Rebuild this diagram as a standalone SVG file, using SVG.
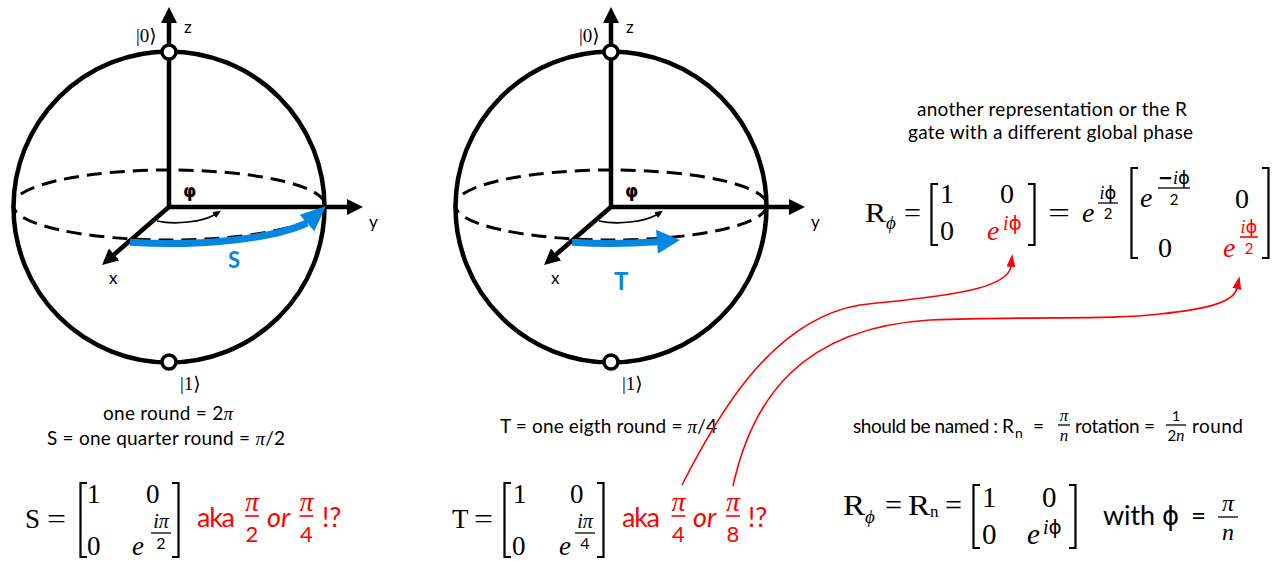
<svg xmlns="http://www.w3.org/2000/svg" width="1283" height="561" viewBox="0 0 1283 561">
<style>
.sans{font-family:Lato,"Liberation Sans","DejaVu Sans",sans-serif}
.math{font-family:"Liberation Serif","DejaVu Serif",serif}
.dj{font-family:"DejaVu Sans",sans-serif;font-style:normal}
.it{font-style:italic}
.sph{fill:none;stroke:#000;stroke-width:4.5}
.axis{stroke:#000;stroke-width:4.5;fill:none;marker-end:url(#ah)}
.eq{fill:none;stroke:#000;stroke-width:3;stroke-dasharray:15 8}
.node{fill:#fff;stroke:#000;stroke-width:3.5}
.phi{fill:none;stroke:#000;stroke-width:1.6;marker-end:url(#sh)}
.brk{fill:none;stroke:#000;stroke-width:2.2}
.frac{stroke:#000;stroke-width:1.3}
.fracr{stroke:#f00;stroke-width:1.6}
.red{fill:#f00}
.blue{fill:#0587e0}
.bl{stroke:#0587e0;stroke-width:7;fill:none}
.rc{fill:none;stroke:#f00;stroke-width:1.6;marker-end:url(#rh)}
.lbl{font-size:17px}
.ket{font-size:19px}
</style>
<defs>
<marker id="ah" markerUnits="userSpaceOnUse" markerWidth="18" markerHeight="16" refX="2" refY="8" orient="auto"><path d="M0,0L16,8L0,16z" fill="#000"/></marker>
<marker id="sh" markerUnits="userSpaceOnUse" markerWidth="9" markerHeight="8" refX="1" refY="3.5" orient="auto"><path d="M0,0L8,3.5L0,7z" fill="#000"/></marker>
<marker id="rh" markerUnits="userSpaceOnUse" markerWidth="14" markerHeight="10" refX="1" refY="4.5" orient="auto"><path d="M0,0L13,4.5L0,9z" fill="#f00"/></marker>
</defs>
<rect width="1283" height="561" fill="#fff"/>

<g id="bloch-s">
<ellipse class="eq" cx="169" cy="205" rx="156" ry="35"/>
<circle class="sph" cx="169" cy="207" r="155.5"/>
<line class="axis" x1="169" y1="207" x2="169" y2="21"/>
<line class="axis" x1="167" y1="207" x2="349" y2="207"/>
<line class="axis" x1="170" y1="206" x2="112.6" y2="255.8"/>
<path class="phi" d="M157,221 C175,225 203,222 215,214.5"/>
<path class="bl" d="M130,242.3 A156,38.5 0 0 0 307,223"/>
<polygon class="blue" points="326,206 314.3,231.2 299.7,214.8"/>
<circle class="node" cx="169" cy="52" r="7"/>
<circle class="node" cx="169" cy="362" r="7"/>
<text class="math ket" x="136" y="42">|0⟩</text>
<text class="sans lbl" x="184" y="33">z</text>
<text class="sans lbl" x="369" y="228">y</text>
<text class="sans lbl" x="109" y="284">x</text>
<text class="dj" x="183" y="197" font-size="17" font-weight="bold">φ</text>
<text class="sans blue" x="228" y="268" font-size="22" font-weight="bold">S</text>
<text class="math ket" x="180" y="390">|1⟩</text>
</g>

<g id="bloch-t">
<ellipse class="eq" cx="611" cy="205" rx="156" ry="35"/>
<circle class="sph" cx="611" cy="207" r="155.5"/>
<line class="axis" x1="611" y1="207" x2="611" y2="21"/>
<line class="axis" x1="609" y1="207" x2="791" y2="207"/>
<line class="axis" x1="612" y1="206" x2="554.6" y2="255.8"/>
<path class="phi" d="M599,221 C617,225 645,222 657,214.5"/>
<path class="bl" d="M572,242.3 A156,38.5 0 0 0 657,241.8"/>
<polygon class="blue" points="680,240 657.9,253.8 656.1,229.8"/>
<circle class="node" cx="611" cy="52" r="7"/>
<circle class="node" cx="611" cy="362" r="7"/>
<text class="math ket" x="579" y="42">|0⟩</text>
<text class="sans lbl" x="626" y="33">z</text>
<text class="sans lbl" x="811" y="228">y</text>
<text class="sans lbl" x="551" y="284">x</text>
<text class="dj" x="625" y="197" font-size="17" font-weight="bold">φ</text>
<text class="sans blue" x="614" y="290" font-size="24" font-weight="bold">T</text>
<text class="math ket" x="622" y="390">|1⟩</text>
</g>

<g id="notes" class="sans" font-size="19">
<text x="168" y="420" text-anchor="middle" textLength="130">one round = 2<tspan class="math it">π</tspan></text>
<text x="166" y="445" text-anchor="middle" textLength="238">S = one quarter round = <tspan class="math it">π</tspan>/2</text>
<text x="608.5" y="433" text-anchor="middle" textLength="217">T = one eigth round = <tspan class="math it">π</tspan>/4</text>
<text x="1052" y="116" text-anchor="middle" textLength="270">another representation or the R</text>
<text x="1050.5" y="139" text-anchor="middle" textLength="285">gate with a different global phase</text>
</g>

<g id="note-rn" class="sans">
<text x="853" y="433" font-size="19" textLength="161">should be named : R</text>
<text x="1015" y="438" font-size="14">n</text>
<text x="1033" y="433" font-size="19">=</text>
<text class="math it" x="1064" y="421" font-size="17" text-anchor="middle">π</text>
<line class="frac" x1="1058" y1="425" x2="1070" y2="425"/>
<text class="math it" x="1064" y="441" font-size="17" text-anchor="middle">n</text>
<text x="1075" y="433" font-size="19" textLength="80">rotation =</text>
<text x="1176" y="421" font-size="14" text-anchor="middle">1</text>
<line class="frac" x1="1166" y1="425" x2="1186" y2="425"/>
<text x="1176" y="441" font-size="15" text-anchor="middle">2<tspan class="math it" font-size="17">n</tspan></text>
<text x="1192" y="433" font-size="19" textLength="51">round</text>
</g>

<g id="formula-s" class="math" font-size="27">
<text x="25" y="528">S</text>
<text x="47" y="528" textLength="19" lengthAdjust="spacingAndGlyphs">=</text>
<path class="brk" d="M87,483 H80.5 V557 H87"/>
<text x="87" y="503">1</text>
<text x="146" y="503">0</text>
<text x="87" y="555">0</text>
<text class="it" x="132" y="555">e</text>
<text class="it" x="161" y="528" font-size="20" text-anchor="middle">iπ</text>
<line class="frac" x1="151" y1="533" x2="171" y2="533"/>
<text class="sans" x="161" y="549" font-size="16" text-anchor="middle">2</text>
<path class="brk" d="M172,483 H178.5 V557 H172"/>
<g class="red">
<text class="sans" x="197" y="527" font-size="27" textLength="38">aka</text>
<text class="it" x="252" y="511" font-size="28" text-anchor="middle">π</text>
<line class="fracr" x1="245" y1="516" x2="259" y2="516"/>
<text class="sans" x="252" y="542" font-size="22" text-anchor="middle">2</text>
<text class="sans it" x="267" y="527" font-size="27">or</text>
<text class="it" x="306.5" y="511" font-size="28" text-anchor="middle">π</text>
<line class="fracr" x1="299.5" y1="516" x2="313.5" y2="516"/>
<text class="sans" x="306.5" y="542" font-size="22" text-anchor="middle">4</text>
<text class="sans" x="322" y="527" font-size="27">!?</text>
</g>
</g>

<g id="formula-t" class="math" font-size="27">
<text x="452" y="528">T</text>
<text x="474" y="528" textLength="19" lengthAdjust="spacingAndGlyphs">=</text>
<path class="brk" d="M511,483 H504.5 V557 H511"/>
<text x="513" y="503">1</text>
<text x="570" y="503">0</text>
<text x="512" y="555">0</text>
<text class="it" x="559" y="555">e</text>
<text class="it" x="585" y="528" font-size="20" text-anchor="middle">iπ</text>
<line class="frac" x1="575" y1="533" x2="595" y2="533"/>
<text class="sans" x="585" y="549" font-size="16" text-anchor="middle">4</text>
<path class="brk" d="M597,483 H603.5 V557 H597"/>
<g class="red">
<text class="sans" x="622" y="527" font-size="27" textLength="38">aka</text>
<text class="it" x="678.5" y="511" font-size="28" text-anchor="middle">π</text>
<line class="fracr" x1="671.5" y1="516" x2="685.5" y2="516"/>
<text class="sans" x="678.5" y="542" font-size="22" text-anchor="middle">4</text>
<text class="sans it" x="693" y="527" font-size="27">or</text>
<text class="it" x="733" y="511" font-size="28" text-anchor="middle">π</text>
<line class="fracr" x1="726" y1="516" x2="740" y2="516"/>
<text class="sans" x="733" y="542" font-size="22" text-anchor="middle">8</text>
<text class="sans" x="748" y="527" font-size="27">!?</text>
</g>
</g>

<g id="formula-rphi" class="math" font-size="28">
<text x="865" y="222" textLength="21" lengthAdjust="spacingAndGlyphs">R</text>
<text class="it" x="886" y="229" font-size="19">ϕ</text>
<text x="904" y="222" textLength="17" lengthAdjust="spacingAndGlyphs">=</text>
<path class="brk" d="M938,184 H931.5 V245 H938"/>
<text x="940" y="203">1</text>
<text x="1000" y="203">0</text>
<text x="940" y="240">0</text>
<text class="it red" x="987" y="240">e</text>
<text class="it red" x="1003" y="230" font-size="20">i<tspan class="dj">ϕ</tspan></text>
<path class="brk" d="M1028,184 H1034.5 V245 H1028"/>
<text x="1048" y="222" textLength="22" lengthAdjust="spacingAndGlyphs">=</text>
<text class="it" x="1082" y="222">e</text>
<text class="it" x="1108" y="199" font-size="18" text-anchor="middle">i<tspan class="dj">ϕ</tspan></text>
<line class="frac" x1="1098" y1="203" x2="1118" y2="203"/>
<text class="sans" x="1108" y="219" font-size="15" text-anchor="middle">2</text>
<path class="brk" d="M1138,168 H1131.5 V258 H1138"/>
<text class="it" x="1140" y="207">e</text>
<text class="it" x="1174" y="184" font-size="18" text-anchor="middle"><tspan class="dj" font-weight="bold">−</tspan>i<tspan class="dj">ϕ</tspan></text>
<line class="frac" x1="1158" y1="188" x2="1190" y2="188"/>
<text class="sans" x="1174" y="205" font-size="15" text-anchor="middle">2</text>
<text x="1235" y="208">0</text>
<text x="1158" y="257">0</text>
<text class="it red" x="1223" y="257">e</text>
<text class="it red" x="1249" y="233" font-size="18" text-anchor="middle">i<tspan class="dj">ϕ</tspan></text>
<line class="fracr" x1="1240" y1="237" x2="1258" y2="237"/>
<text class="sans red" x="1249" y="254" font-size="15" text-anchor="middle">2</text>
<path class="brk" d="M1262,168 H1268.5 V258 H1262"/>
</g>

<g id="formula-rn" class="math" font-size="29">
<text x="843" y="515" textLength="22" lengthAdjust="spacingAndGlyphs">R</text>
<text class="it" x="865" y="523" font-size="19">ϕ</text>
<text x="885" y="515" textLength="17" lengthAdjust="spacingAndGlyphs">=</text>
<text x="908" y="515" textLength="22" lengthAdjust="spacingAndGlyphs">R</text>
<text x="930" y="517" font-size="17">n</text>
<text x="945" y="515" textLength="17" lengthAdjust="spacingAndGlyphs">=</text>
<path class="brk" d="M980,485 H973.5 V548 H980"/>
<text x="982" y="507">1</text>
<text x="1042" y="507">0</text>
<text x="982" y="544">0</text>
<text class="it" x="1027" y="544">e</text>
<text class="it" x="1043" y="534" font-size="20">i<tspan class="dj">ϕ</tspan></text>
<path class="brk" d="M1069,485 H1075.5 V548 H1069"/>
<text class="sans" x="1103" y="525" font-size="27" textLength="52">with</text>
<text class="dj" x="1162" y="525" font-size="26">ϕ</text>
<text class="sans" x="1191" y="525" font-size="26">=</text>
<text class="it" x="1228" y="511" font-size="24" text-anchor="middle">π</text>
<line class="frac" x1="1218" y1="517" x2="1238" y2="517"/>
<text class="it" x="1228" y="540" font-size="24" text-anchor="middle">n</text>
</g>

<g id="connectors">
<path class="rc" d="M682,485 C715,420 770,320 860,305 C930,297 1008,292 1011,266"/>
<path class="rc" d="M733,486 C752,400 800,328 930,320 C1040,316 1110,320 1160,314 C1208,309 1234,302 1237,288"/>
</g>
</svg>
